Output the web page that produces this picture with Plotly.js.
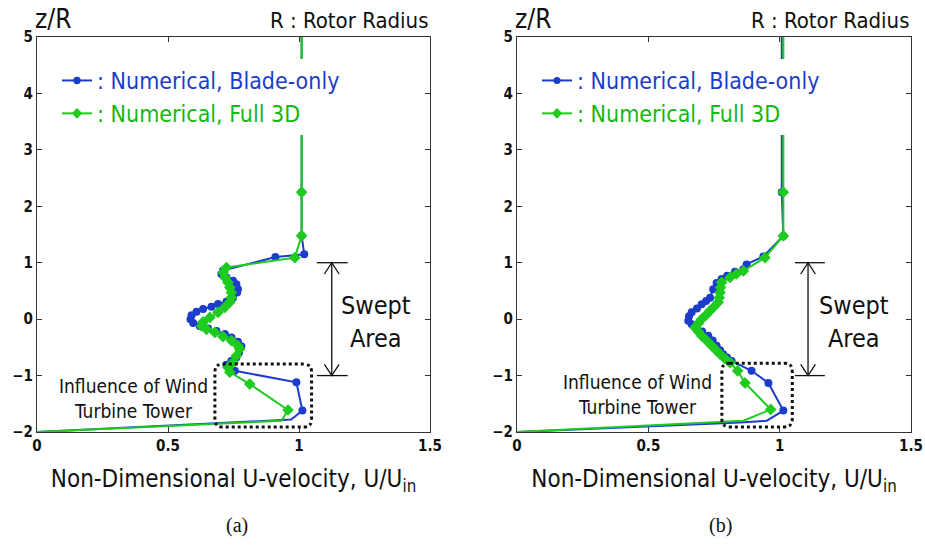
<!DOCTYPE html>
<html>
<head>
<meta charset="utf-8">
<script src="https://cdn.plot.ly/plotly-3.0.1.min.js"></script>
<style>html,body{margin:0;padding:0;background:#fff;}#chart{width:925px;height:553px;}</style>
</head>
<body>
<div id="chart"></div>
<script>
// ---- data ----
// Panel (a)
const bladeA_u = [1.01, 1.01, 1.01, 1.02, 0.91, 0.710, 0.704, 0.723, 0.748, 0.761, 0.767, 0.764, 0.748, 0.723, 0.691, 0.666, 0.634, 0.609, 0.590, 0.586, 0.596, 0.621, 0.653, 0.685, 0.717, 0.742, 0.767, 0.780, 0.771, 0.761, 0.742, 0.723, 0.736, 0.755, 0.990, 1.013, 0.970, 0.0];
const bladeA_z = [5.0, 2.25, 1.48, 1.15, 1.10, 0.86, 0.80, 0.74, 0.68, 0.62, 0.53, 0.47, 0.38, 0.31, 0.27, 0.22, 0.18, 0.13, 0.07, 0.0, -0.07, -0.12, -0.165, -0.21, -0.265, -0.325, -0.40, -0.48, -0.59, -0.68, -0.74, -0.81, -0.87, -0.915, -1.12, -1.62, -1.78, -2.0];
const fullA_u = [1.01, 1.01, 1.01, 0.984, 0.723, 0.710, 0.717, 0.729, 0.736, 0.742, 0.742, 0.736, 0.717, 0.691, 0.660, 0.634, 0.628, 0.647, 0.679, 0.710, 0.742, 0.767, 0.774, 0.761, 0.748, 0.729, 0.736, 0.812, 0.958, 0.933, 0.0];
const fullA_z = [5.0, 2.25, 1.48, 1.09, 0.915, 0.83, 0.74, 0.65, 0.56, 0.47, 0.38, 0.30, 0.21, 0.12, 0.03, -0.05, -0.12, -0.18, -0.235, -0.31, -0.38, -0.47, -0.53, -0.65, -0.77, -0.855, -0.94, -1.15, -1.61, -1.80, -2.0];
// Panel (b)
const bladeB_u = [1.008, 1.008, 1.014, 0.938, 0.874, 0.862, 0.830, 0.800, 0.779, 0.760, 0.747, 0.735, 0.720, 0.703, 0.685, 0.665, 0.655, 0.652, 0.665, 0.684, 0.705, 0.728, 0.745, 0.760, 0.773, 0.785, 0.800, 0.817, 0.893, 0.957, 1.014, 0.951, 0.849, 0.0];
const bladeB_z = [5.0, 2.25, 1.475, 1.11, 0.97, 0.885, 0.84, 0.77, 0.71, 0.64, 0.53, 0.38, 0.32, 0.265, 0.19, 0.12, 0.05, -0.03, -0.09, -0.15, -0.22, -0.295, -0.38, -0.47, -0.55, -0.62, -0.68, -0.74, -0.915, -1.13, -1.62, -1.80, -1.83, -2.0];
const fullB_u = [1.014, 1.014, 1.014, 0.944, 0.862, 0.835, 0.811, 0.779, 0.775, 0.773, 0.770, 0.766, 0.750, 0.735, 0.720, 0.703, 0.690, 0.678, 0.690, 0.703, 0.722, 0.741, 0.757, 0.773, 0.792, 0.811, 0.840, 0.868, 0.966, 0.862, 0.0];
const fullB_z = [5.0, 2.25, 1.475, 1.09, 0.855, 0.80, 0.74, 0.65, 0.56, 0.47, 0.38, 0.30, 0.22, 0.15, 0.075, 0.0, -0.075, -0.15, -0.22, -0.295, -0.38, -0.47, -0.545, -0.62, -0.70, -0.77, -0.915, -1.13, -1.60, -1.80, -2.0];

const xTicks = [0, 0.5, 1, 1.5];
const xTickText = ['0', '0.5', '1', '1.5'];
const yTicks = [-2, -1, 0, 1, 2, 3, 4, 5];

const seriesNames = [': Numerical, Blade-only', ': Numerical, Full 3D'];
const panelLabels = ['(a)', '(b)'];

// ---- styling ----
const BLUE = '#1c3ccc';
const GREEN = '#1ecb1e';
const FONT = 'DejaVu Sans Condensed, Verdana, sans-serif';
const W = 925, H = 553;
const px = v => v / W;
const py = v => 1 - v / H;

function sizes(z, s) { return z.map(v => (v > 4.9 || v < -1.7) ? 0 : s); }

function mk(u, z, name, color, sym, ax, lg, s) {
  return {
    x: u, y: z, type: 'scatter', mode: 'lines+markers', name: name,
    xaxis: ax[0], yaxis: ax[1], legend: lg,
    line: {color: color, width: 2},
    marker: {color: color, symbol: sym, size: sizes(z, s), opacity: 1, line: {width: 0}},
    cliponaxis: true
  };
}
const nameBlue = '<span style="color:' + BLUE + '">' + seriesNames[0] + '</span>';
const nameGreen = '<span style="color:#14b814">' + seriesNames[1] + '</span>';

const data = [
  mk(bladeA_u, bladeA_z, nameBlue, BLUE, 'circle', ['x', 'y'], 'legend', 8),
  mk(fullA_u, fullA_z, nameGreen, GREEN, 'diamond', ['x', 'y'], 'legend', 9),
  mk(bladeB_u, bladeB_z, nameBlue, BLUE, 'circle', ['x2', 'y2'], 'legend2', 8),
  mk(fullB_u, fullB_z, nameGreen, GREEN, 'diamond', ['x2', 'y2'], 'legend2', 9)
];

function xax(domain, anchor) {
  return {
    domain: domain, anchor: anchor, range: [0, 1.5], tickvals: xTicks, ticktext: xTickText,
    ticks: 'inside', ticklen: 5, tickcolor: '#333', showline: true, linecolor: '#333', linewidth: 1,
    mirror: 'ticks', showgrid: false, zeroline: false, fixedrange: true,
    tickfont: {family: FONT, size: 15, color: '#111', weight: 'bold'},
    title: {text: 'Non-Dimensional U-velocity, U/U<sub>in</sub>', standoff: 16,
            font: {family: FONT, size: 24, color: '#111'}}
  };
}
function yax(domain, anchor) {
  return {
    domain: domain, anchor: anchor, range: [-2, 5], tickvals: yTicks,
    ticks: 'inside', ticklen: 5, tickcolor: '#333', showline: true, linecolor: '#333', linewidth: 1,
    mirror: 'ticks', showgrid: false, zeroline: false, fixedrange: true,
    tickfont: {family: FONT, size: 15, color: '#111', weight: 'bold'}
  };
}

const yDom = [1 - 432 / H, 1 - 37 / H];

function roundRect(x0, x1, y0, y1, rx, ry) {
  return 'M' + (x0 + rx) + ',' + y1 + ' L' + (x1 - rx) + ',' + y1 +
    ' Q' + x1 + ',' + y1 + ' ' + x1 + ',' + (y1 - ry) +
    ' L' + x1 + ',' + (y0 + ry) + ' Q' + x1 + ',' + y0 + ' ' + (x1 - rx) + ',' + y0 +
    ' L' + (x0 + rx) + ',' + y0 + ' Q' + x0 + ',' + y0 + ' ' + x0 + ',' + (y0 + ry) +
    ' L' + x0 + ',' + (y1 - ry) + ' Q' + x0 + ',' + y1 + ' ' + (x0 + rx) + ',' + y1 + ' Z';
}
function arrowShapes(xr, yr, xc, c0, c1) {
  const ln = {color: '#111', width: 1.3};
  const hw = 0.028, hh = 0.2;
  return [
    {type: 'line', xref: xr, yref: yr, x0: xc, x1: xc, y0: -1, y1: 1, line: ln},
    {type: 'line', xref: xr, yref: yr, x0: c0, x1: c1, y0: 1, y1: 1, line: ln},
    {type: 'line', xref: xr, yref: yr, x0: c0, x1: c1, y0: -1, y1: -1, line: ln},
    {type: 'path', xref: xr, yref: yr, path: 'M' + (xc - hw) + ',' + (1 - hh) + ' L' + xc + ',1 L' + (xc + hw) + ',' + (1 - hh), line: ln},
    {type: 'path', xref: xr, yref: yr, path: 'M' + (xc - hw) + ',' + (-1 + hh) + ' L' + xc + ',-1 L' + (xc + hw) + ',' + (-1 + hh), line: ln}
  ];
}

const dotLine = {color: '#111', width: 3, dash: 'dot'};
const shapes = [].concat(
  arrowShapes('x', 'y', 1.125, 1.068, 1.186),
  arrowShapes('x2', 'y2', 1.108, 1.058, 1.172),
  [
    {type: 'path', xref: 'x', yref: 'y', path: roundRect(0.679, 1.048, -1.912, -0.797, 0.03, 0.14), line: dotLine},
    {type: 'path', xref: 'x2', yref: 'y2', path: roundRect(0.780, 1.048, -1.91, -0.78, 0.03, 0.14), line: dotLine}
  ]
);

function ann(text, x, y, xanchor, size, extra) {
  return Object.assign({text: text, xref: 'paper', yref: 'paper', x: px(x), y: py(y), xanchor: xanchor,
    yanchor: 'middle', showarrow: false, font: {family: FONT, size: size, color: '#111'}}, extra || {});
}

const annotations = [
  ann('z/R', 33, 19, 'left', 26),
  ann('R : Rotor Radius', 430, 20, 'right', 22),
  ann('z/R', 513, 19, 'left', 26),
  ann('R : Rotor Radius', 911, 20, 'right', 22),
  ann('Swept<br>Area', 376, 322, 'center', 25),
  ann('Swept<br>Area', 854, 322, 'center', 25),
  ann('Influence of Wind<br>Turbine Tower', 133, 398, 'center', 19),
  ann('Influence of Wind<br>Turbine Tower', 637, 394, 'center', 19),
  ann(panelLabels[0], 237, 525, 'center', 20, {font: {family: 'Liberation Serif, serif', size: 20, color: '#111'}}),
  ann(panelLabels[1], 720, 525, 'center', 20, {font: {family: 'Liberation Serif, serif', size: 20, color: '#111'}})
];

const legendBase = {
  bgcolor: '#ffffff', borderwidth: 0, font: {family: FONT, size: 23, color: '#111'},
  xanchor: 'left', yanchor: 'top', tracegroupgap: 0, itemwidth: 30, traceorder: 'normal'
};

const layout = {
  width: W, height: H, margin: {l: 0, r: 0, t: 0, b: 0},
  paper_bgcolor: '#fff', plot_bgcolor: '#fff', showlegend: true,
  xaxis: xax([37 / W, 430 / W], 'y'),
  yaxis: yax(yDom, 'x'),
  xaxis2: xax([517 / W, 911 / W], 'y2'),
  yaxis2: yax(yDom, 'x2'),
  legend: Object.assign({}, legendBase, {x: px(57), y: py(59)}),
  legend2: Object.assign({}, legendBase, {x: px(537), y: py(59)}),
  shapes: shapes,
  annotations: annotations
};

Plotly.newPlot('chart', data, layout, {displayModeBar: false, staticPlot: true});
</script>
</body>
</html>
